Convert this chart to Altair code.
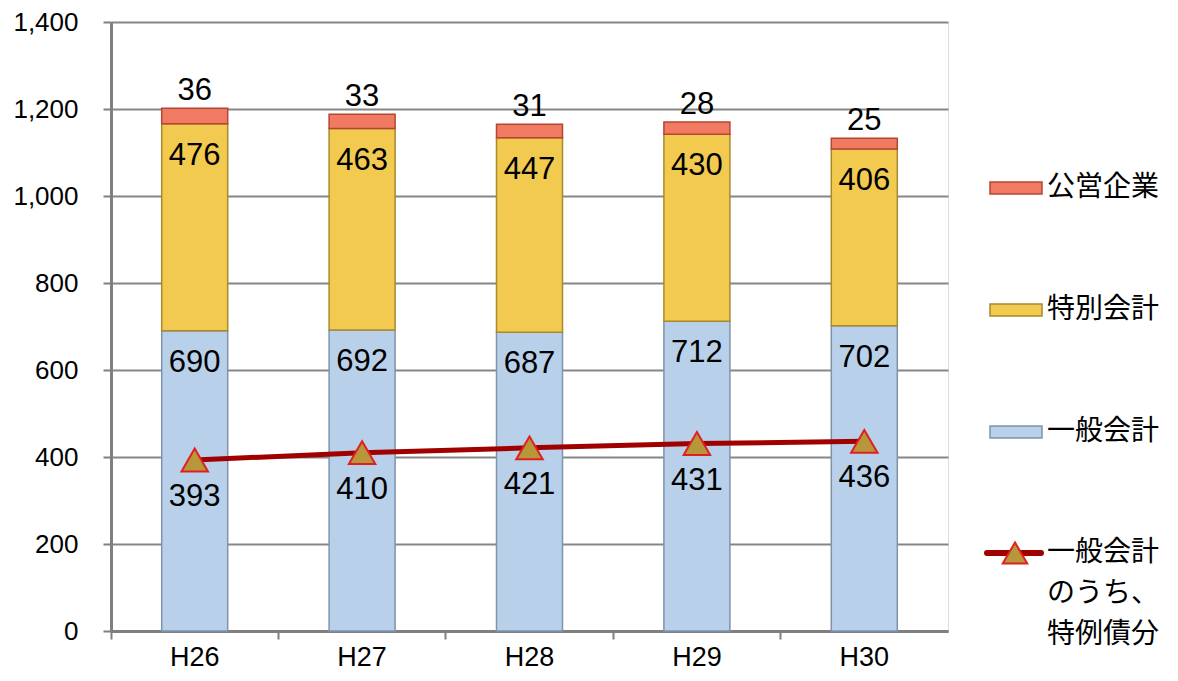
import altair as alt
import pandas as pd

years = ["H26", "H27", "H28", "H29", "H30"]
general = [690, 692, 687, 712, 702]       # 一般会計
special = [476, 463, 447, 430, 406]       # 特別会計
public = [36, 33, 31, 28, 25]             # 公営企業
special_bonds = [393, 410, 421, 431, 436]  # 一般会計のうち、特例債分

series_names = ["一般会計", "特別会計", "公営企業"]
fills = ["#B9D0EA", "#F2CA50", "#F07A62"]
strokes = ["#7F93AA", "#A88A2C", "#B44634"]

rows = []
for i, yr in enumerate(years):
    base = 0
    for k, (name, vals) in enumerate(zip(series_names, [general, special, public])):
        rows.append(dict(year=yr, series=name, value=vals[i], y0=base, y1=base + vals[i], order=k))
        base += vals[i]
df = pd.DataFrame(rows)
line_df = pd.DataFrame({"year": years, "value": special_bonds})

W, H = 837, 609
NUM_FONT = "Liberation Sans"
AX_FONT = "Liberation Sans"
JP_FONT = "Noto Sans CJK JP"

xscale = alt.Scale(domain=years, paddingInner=0, paddingOuter=0)
yscale = alt.Scale(domain=[0, 1400])

x_enc = alt.X("year:N", scale=xscale, sort=years, title=None,
              axis=alt.Axis(bandPosition=0, labelAngle=0, labelFontSize=27, labelFont=AX_FONT,
                            labelColor="#000000", labelPadding=5, tickSize=8, tickWidth=2,
                            tickColor="#7f7f7f", domainColor="#7f7f7f", domainWidth=3, grid=False))

bars = alt.Chart(df).mark_bar(size=66, strokeWidth=1.5).encode(
    x=x_enc,
    y=alt.Y("y0:Q", scale=yscale, title=None,
            axis=alt.Axis(values=[0, 200, 400, 600, 800, 1000, 1200, 1400], format=",.0f",
                          labelFontSize=26, labelFont=AX_FONT, labelColor="#000000",
                          labelPadding=25, tickSize=8, tickWidth=2, tickColor="#7f7f7f",
                          domainColor="#7f7f7f", domainWidth=3, grid=True,
                          gridColor="#868686", gridWidth=2)),
    y2="y1:Q",
    fill=alt.Fill("series:N", scale=alt.Scale(domain=series_names, range=fills), legend=None),
    stroke=alt.Stroke("series:N", scale=alt.Scale(domain=series_names, range=strokes), legend=None),
)

top_labels = alt.Chart(df).transform_filter(alt.datum.series == "公営企業").mark_text(
    baseline="bottom", dy=-1, fontSize=31, font=NUM_FONT, color="#000000"
).encode(x=alt.X("year:N", scale=xscale, sort=years), y=alt.Y("y1:Q", scale=yscale), text="value:Q")

inner_labels = alt.Chart(df).transform_filter(alt.datum.series != "公営企業").mark_text(
    baseline="middle", dy=32, fontSize=31, font=NUM_FONT, color="#000000"
).encode(x=alt.X("year:N", scale=xscale, sort=years), y=alt.Y("y1:Q", scale=yscale), text="value:Q")

line = alt.Chart(line_df).mark_line(color="#A00000", strokeWidth=5).encode(
    x=alt.X("year:N", scale=xscale, sort=years), y=alt.Y("value:Q", scale=yscale))
points = alt.Chart(line_df).mark_point(shape="triangle-up", size=700, filled=True,
                                       fill="#B8963A", stroke="#E02020", strokeWidth=2, opacity=1).encode(
    x=alt.X("year:N", scale=xscale, sort=years), y=alt.Y("value:Q", scale=yscale))
line_labels = alt.Chart(line_df).mark_text(baseline="middle", dy=37, fontSize=31, font=NUM_FONT,
                                           color="#000000").encode(
    x=alt.X("year:N", scale=xscale, sort=years), y=alt.Y("value:Q", scale=yscale), text="value:Q")

# legend (drawn manually to match the Excel style)
legend_layers = []
leg_rows = [("公営企業", 166, 2), ("特別会計", 288, 1), ("一般会計", 410, 0)]
for label, yc, idx in leg_rows:
    d = pd.DataFrame({"label": [label]})
    legend_layers.append(alt.Chart(d).mark_rect(fill=fills[idx], stroke=strokes[idx], strokeWidth=1.5).encode(
        x=alt.value(879), x2=alt.value(931), y=alt.value(yc - 6), y2=alt.value(yc + 6)))
    legend_layers.append(alt.Chart(d).mark_text(align="left", baseline="middle", fontSize=28, font=JP_FONT,
                                                color="#000000").encode(
        x=alt.value(936), y=alt.value(yc), text="label:N"))

dl = pd.DataFrame({"label": ["一般会計"]})
legend_layers.append(alt.Chart(dl).mark_rule(color="#A00000", strokeWidth=6, strokeCap="round").encode(
    x=alt.value(876), x2=alt.value(930), y=alt.value(531)))
legend_layers.append(alt.Chart(dl).mark_point(shape="triangle-up", size=600, filled=True, fill="#B8963A",
                                              stroke="#E02020", strokeWidth=2, opacity=1).encode(
    x=alt.value(904), y=alt.value(531)))
for txt, yy in [("一般会計", 531), ("のうち、", 572), ("特例債分", 613)]:
    legend_layers.append(alt.Chart(pd.DataFrame({"label": [txt]})).mark_text(
        align="left", baseline="middle", fontSize=28, font=JP_FONT, color="#000000").encode(
        x=alt.value(936), y=alt.value(yy), text="label:N"))

chart = alt.layer(bars, top_labels, inner_labels, line, points, line_labels, *legend_layers).properties(
    width=W, height=H,
    autosize=alt.AutoSizeParams(type="none"),
    padding={"left": 103, "top": 14, "right": 220, "bottom": 41},
).configure_view(stroke=None).configure(background="#ffffff")

chart.save("out.html", embed_options={"renderer": "svg", "actions": False})
